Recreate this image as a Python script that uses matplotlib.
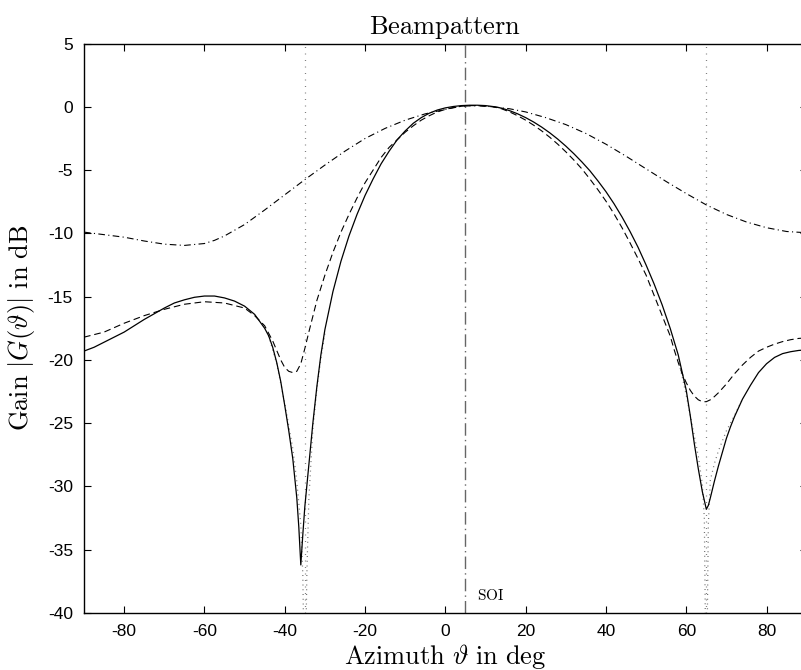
import matplotlib
matplotlib.use("Agg")
import matplotlib.pyplot as plt

plt.rcParams['mathtext.fontset'] = 'cm'
plt.rcParams['font.family'] = ['Liberation Sans', 'DejaVu Sans']

# ---- data ----
sol_az = [-90, -87.5, -85, -82.5, -80, -77.5, -75, -72.5, -70, -67.5, -65, -62.5, -60, -57.5,
          -55, -52.5, -50, -47.5, -45, -44, -43, -42, -41, -40, -39, -38, -37, -36.5, -36,
          -35.5, -35, -34, -33, -32, -31, -30, -28, -26, -24, -22, -20, -18, -16, -14, -12,
          -10, -8, -6, -4, -2, 0, 2, 4, 6, 8, 10, 12, 14, 16, 18, 20, 22, 24, 26, 28, 30, 32,
          34, 36, 38, 40, 42, 44, 46, 48, 50, 52, 54, 56, 58, 60, 61, 62, 63, 64, 65, 65.5,
          66, 67, 68, 69, 70, 71, 72, 74, 76, 78, 80, 82, 84, 86, 88, 90]
sol_db = [-19.3, -19.0, -18.6, -18.2, -17.8, -17.3, -16.8, -16.35, -15.9, -15.5, -15.25, -15.05,
          -14.95, -14.95, -15.1, -15.35, -15.75, -16.4, -17.5, -18.1, -19.0, -20.2, -21.7, -23.6,
          -25.6, -27.8, -30.9, -33.2, -36.2, -33.8, -31.6, -28.3, -25.0, -22.1, -19.6, -17.6,
          -14.6, -12.2, -10.2, -8.5, -7.0, -5.7, -4.5, -3.5, -2.6, -1.9, -1.3, -0.85, -0.5,
          -0.25, -0.08, 0.03, 0.1, 0.13, 0.13, 0.1, 0.02, -0.1, -0.3, -0.55, -0.85, -1.2, -1.6,
          -2.05, -2.55, -3.1, -3.7, -4.35, -5.05, -5.85, -6.7, -7.65, -8.7, -9.85, -11.1, -12.5,
          -14.0, -15.65, -17.5, -19.6, -22.4, -24.4, -26.6, -28.6, -30.4, -31.8, -31.5, -30.9,
          -29.6, -28.4, -27.3, -26.2, -25.3, -24.5, -23.1, -22.0, -21.0, -20.3, -19.8, -19.5,
          -19.35, -19.25, -19.2]

dash_az = [-90, -85, -80, -75, -70, -65, -60, -55, -50, -47.5, -45, -43, -41, -40, -39, -38,
           -37, -36, -35, -34, -32, -30, -28, -26, -24, -22, -20, -18, -16, -14, -12, -10, -8,
           -6, -4, -2, 0, 2, 4, 6, 8, 10, 12, 14, 16, 18, 20, 22, 24, 26, 28, 30, 32, 34, 36,
           38, 40, 42, 44, 46, 48, 50, 52, 54, 55, 56, 57, 58, 59, 60, 61, 62, 63, 64, 65, 66,
           67, 68, 70, 72, 74, 76, 78, 80, 82, 84, 86, 88, 90]
dash_db = [-18.2, -17.8, -17.1, -16.5, -16.0, -15.6, -15.4, -15.5, -15.9, -16.5, -17.3, -18.5,
           -20.0, -20.6, -20.9, -21.0, -20.9, -20.3, -19.1, -17.8, -15.3, -13.3, -11.5, -9.9,
           -8.5, -7.2, -6.0, -5.0, -4.0, -3.2, -2.6, -2.0, -1.5, -1.05, -0.7, -0.4, -0.2, -0.05,
           0.05, 0.1, 0.1, 0.05, 0.0, -0.15, -0.4, -0.7, -1.05, -1.45, -1.9, -2.4, -2.95, -3.55,
           -4.2, -4.9, -5.7, -6.55, -7.45, -8.45, -9.55, -10.75, -12.0, -13.3, -14.9, -16.5,
           -17.3, -18.1, -19.2, -20.2, -21.1, -21.8, -22.4, -22.85, -23.15, -23.3, -23.3, -23.15,
           -22.9, -22.6, -21.9, -21.1, -20.4, -19.8, -19.3, -19.0, -18.75, -18.55, -18.4, -18.3,
           -18.25]

dd_az = [-90, -85, -80, -75, -70, -65, -60, -57.5, -55, -50, -45, -40, -35, -30, -25, -20, -15,
         -10, -5, 0, 4, 8, 12, 16, 20, 25, 30, 35, 40, 45, 50, 55, 60, 65, 70, 75, 80, 85, 90]
dd_db = [-9.9, -10.1, -10.3, -10.6, -10.85, -10.95, -10.8, -10.55, -10.2, -9.3, -8.15, -6.95,
         -5.75, -4.6, -3.5, -2.5, -1.7, -1.05, -0.55, -0.2, 0.05, 0.1, 0.0, -0.15, -0.4, -0.85,
         -1.4, -2.1, -2.95, -3.9, -4.9, -5.9, -6.85, -7.75, -8.5, -9.1, -9.55, -9.85, -9.95]

# ideal pattern, only where it departs from the solid curve (near the nulls)
ideal1_az = [-44, -42, -40, -38, -37, -36, -35.5, -35, -34.5, -34, -33, -32, -31, -30]
ideal1_db = [-18.1, -20.3, -23.4, -27.0, -29.6, -33.0, -37.0, -48.0, -37.0, -31.0, -25.5,
             -22.3, -19.9, -17.9]
ideal2_az = [58, 60, 61, 62, 63, 64, 64.5, 65, 65.5, 66, 67, 68, 69, 70, 72, 74]
ideal2_db = [-19.9, -22.8, -24.4, -26.0, -27.6, -29.8, -32.5, -48.0, -33.0, -29.5, -28.2,
             -27.2, -26.4, -25.6, -24.4, -23.1]

null_dirs = [-35, 65]
soi_dir = 5

xticks = [-80, -60, -40, -20, 0, 20, 40, 60, 80]
yticks = [-40, -35, -30, -25, -20, -15, -10, -5, 0, 5]

fig = plt.figure(figsize=(8.01, 6.70), dpi=100)
ax = fig.add_axes([84 / 801, 57 / 670, 722.7 / 801, 569.4 / 670])

for d in null_dirs:
    ax.axvline(d, color='0.5', lw=0.9, dashes=(0.8, 4.4))
ax.axvline(soi_dir, color='0.4', lw=1.0, dashes=(9, 3, 1, 3))

ax.plot(ideal1_az, ideal1_db, color='0.45', lw=0.9, dashes=(0.8, 3.0))
ax.plot(ideal2_az, ideal2_db, color='0.45', lw=0.9, dashes=(0.8, 3.0))
ax.plot(dd_az, dd_db, color='black', lw=0.8, dashes=(6, 3, 1, 3))
ax.plot(dash_az, dash_db, color='black', lw=0.8, dashes=(6, 3.5))
ax.plot(sol_az, sol_db, color='black', lw=0.9)

ax.text(7.8, -39.0, r'$\mathrm{SOI}$', fontsize=11, ha='left', va='baseline')

ax.set_xlim(-90, 90)
ax.set_ylim(-40, 5)
ax.set_xticks(xticks)
ax.set_yticks(yticks)
ax.set_xticklabels([str(t) for t in xticks])
ax.set_yticklabels([str(t) for t in yticks])
ax.tick_params(direction='in', top=True, right=True, length=5, width=0.8,
               labelsize=12.5, pad=8)
for s in ax.spines.values():
    s.set_linewidth(1.0)

ax.set_title(r'$\mathrm{Beampattern}$', fontsize=19, pad=7)
ax.set_xlabel(r'$\mathrm{Azimuth}\ \vartheta\ \mathrm{in\ deg}$', fontsize=19, labelpad=2)
ax.set_ylabel(r'$\mathrm{Gain}\ |G(\vartheta)|\ \mathrm{in\ dB}$', fontsize=19, labelpad=8)

fig.savefig('out.png', dpi=100)
